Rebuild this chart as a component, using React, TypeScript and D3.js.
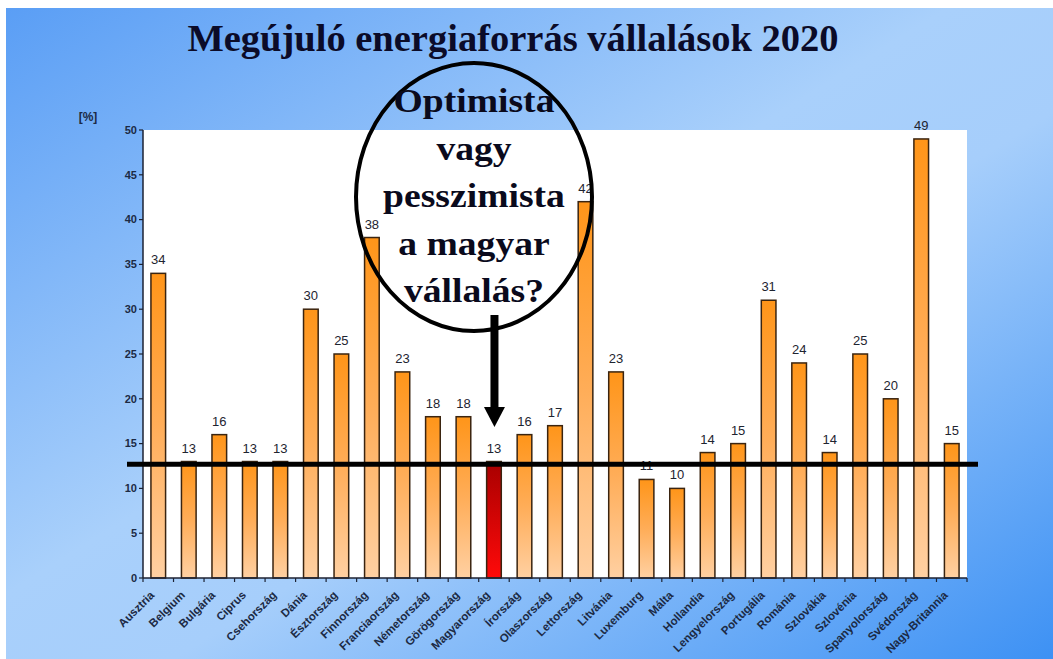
import React from "react";
import * as d3 from "d3";

const categories = [
  "Ausztria", "Belgium", "Bulgária", "Ciprus", "Csehország", "Dánia", "Észtország",
  "Finnország", "Franciaország", "Németország", "Görögország", "Magyarország", "Írország",
  "Olaszország", "Lettország", "Litvánia", "Luxemburg", "Málta", "Hollandia",
  "Lengyelország", "Portugália", "Románia", "Szlovákia", "Szlovénia", "Spanyolország",
  "Svédország", "Nagy-Britannia",
];
const values = [34, 13, 16, 13, 13, 30, 25, 38, 23, 18, 18, 13, 16, 17, 42, 23, 11, 10, 14, 15, 31, 24, 14, 25, 20, 49, 15];
const highlight = "Magyarország";
const yTicks = [0, 5, 10, 15, 20, 25, 30, 35, 40, 45, 50];
const refValue = 12.7;
const title = "Megújuló energiaforrás vállalások 2020";
const unitLabel = "[%]";
const calloutLines = ["Optimista", "vagy", "pesszimista", "a magyar", "vállalás?"];

const W = 1053;
const H = 659;
const plot = { left: 143, right: 967, top: 130, bottom: 578 };
const textColor = "#1c2a44";
const serif = "'Liberation Serif', 'Times New Roman', serif";

export default function App() {
  const x = d3
    .scaleBand<string>()
    .domain(categories)
    .range([plot.left, plot.right])
    .paddingInner(0.52)
    .paddingOuter(0.26);
  const y = d3.scaleLinear().domain([0, 50]).range([plot.bottom, plot.top]);
  const step = x.step();
  const bw = x.bandwidth();
  const boundaries = d3.range(categories.length + 1).map((i) => plot.left + i * step);
  const hIdx = categories.indexOf(highlight);
  const arrowX = (x(highlight) as number) + bw / 2 + 0.5;
  const calloutCx = 474;

  return (
    <svg
      width={W}
      height={H}
      style={{ position: "absolute", left: 0, top: 0, display: "block" }}
      fontFamily="Arial, 'Liberation Sans', sans-serif"
    >
      <defs>
        <linearGradient id="bg" x1="0" y1="0" x2="1" y2="1">
          <stop offset="0" stopColor="#5a9ef5" />
          <stop offset="0.45" stopColor="#a9d0fb" />
          <stop offset="0.58" stopColor="#a6cefb" />
          <stop offset="1" stopColor="#3d91f4" />
        </linearGradient>
        <linearGradient id="barOrange" x1="0" y1="0" x2="0" y2="1">
          <stop offset="0" stopColor="#ff9519" />
          <stop offset="0.5" stopColor="#ffad58" />
          <stop offset="1" stopColor="#ffd0a2" />
        </linearGradient>
        <linearGradient id="barRed" x1="0" y1="0" x2="0" y2="1">
          <stop offset="0" stopColor="#a80000" />
          <stop offset="1" stopColor="#ff0a0a" />
        </linearGradient>
      </defs>
      <rect x={0} y={0} width={W} height={H} fill="#ffffff" />
      <rect x={6} y={8} width={W - 6} height={H - 8} fill="url(#bg)" />

      <text
        x={513}
        y={51}
        textAnchor="middle"
        fontFamily={serif}
        fontWeight="bold"
        fontSize={38.5}
        fill="#0b0b28"
      >
        {title}
      </text>

      <rect
        x={plot.left}
        y={plot.top}
        width={plot.right - plot.left}
        height={plot.bottom - plot.top}
        fill="#ffffff"
      />

      {/* bars */}
      {categories.map((c, i) => (
        <rect
          key={c}
          x={x(c)}
          y={y(values[i])}
          width={bw}
          height={y(0) - y(values[i])}
          fill={i === hIdx ? "url(#barRed)" : "url(#barOrange)"}
          stroke="#3a2410"
          strokeWidth={1.5}
        />
      ))}

      {/* value labels */}
      {categories.map((c, i) => (
        <text
          key={"v" + c}
          x={(x(c) as number) + bw / 2}
          y={y(values[i]) - 9}
          textAnchor="middle"
          fontSize={13}
          fill="#1e2430"
        >
          {values[i]}
        </text>
      ))}

      {/* axes */}
      <line x1={plot.left} x2={plot.left} y1={plot.top} y2={plot.bottom} stroke="#1c2233" strokeWidth={1.5} />
      <line x1={plot.left} x2={plot.right} y1={plot.bottom} y2={plot.bottom} stroke="#1c2233" strokeWidth={1.5} />
      {yTicks.map((t) => (
        <g key={"yt" + t}>
          <line x1={plot.left - 4} x2={plot.left} y1={y(t)} y2={y(t)} stroke="#1c2233" strokeWidth={1.2} />
          <text
            x={plot.left - 6}
            y={y(t)}
            dy="0.35em"
            textAnchor="end"
            fontSize={11}
            fontWeight="bold"
            fill={textColor}
          >
            {t}
          </text>
        </g>
      ))}
      {boundaries.map((bx, i) => (
        <line key={"xt" + i} x1={bx} x2={bx} y1={plot.bottom} y2={plot.bottom + 4} stroke="#1c2233" strokeWidth={1.2} />
      ))}
      {categories.map((c) => {
        const cx = (x(c) as number) + bw / 2;
        return (
          <text
            key={"xl" + c}
            transform={`translate(${cx - 6},${plot.bottom + 15}) rotate(-45)`}
            textAnchor="end"
            dy="0.35em"
            fontSize={11.5}
            fontWeight="bold"
            fill={textColor}
          >
            {c}
          </text>
        );
      })}
      <text x={88} y={121} textAnchor="middle" fontSize={12} fontWeight="bold" fill={textColor}>
        {unitLabel}
      </text>

      {/* reference line */}
      <line x1={127} x2={978} y1={y(refValue)} y2={y(refValue)} stroke="#000000" strokeWidth={5} />

      {/* callout */}
      <ellipse cx={calloutCx} cy={197} rx={118} ry={134} fill="none" stroke="#000000" strokeWidth={4} />
      {calloutLines.map((l, i) => (
        <text
          key={"cl" + i}
          transform={`translate(${calloutCx},${112 + i * 47.5}) scale(1.14,1)`}
          textAnchor="middle"
          fontFamily={serif}
          fontWeight="bold"
          fontSize={33}
          fill="#0a0a1c"
        >
          {l}
        </text>
      ))}
      <line x1={arrowX} x2={arrowX} y1={315} y2={410} stroke="#000000" strokeWidth={8} />
      <path
        d={`M${arrowX - 10.5},407 L${arrowX + 10.5},407 L${arrowX},427 Z`}
        fill="#000000"
      />
    </svg>
  );
}
